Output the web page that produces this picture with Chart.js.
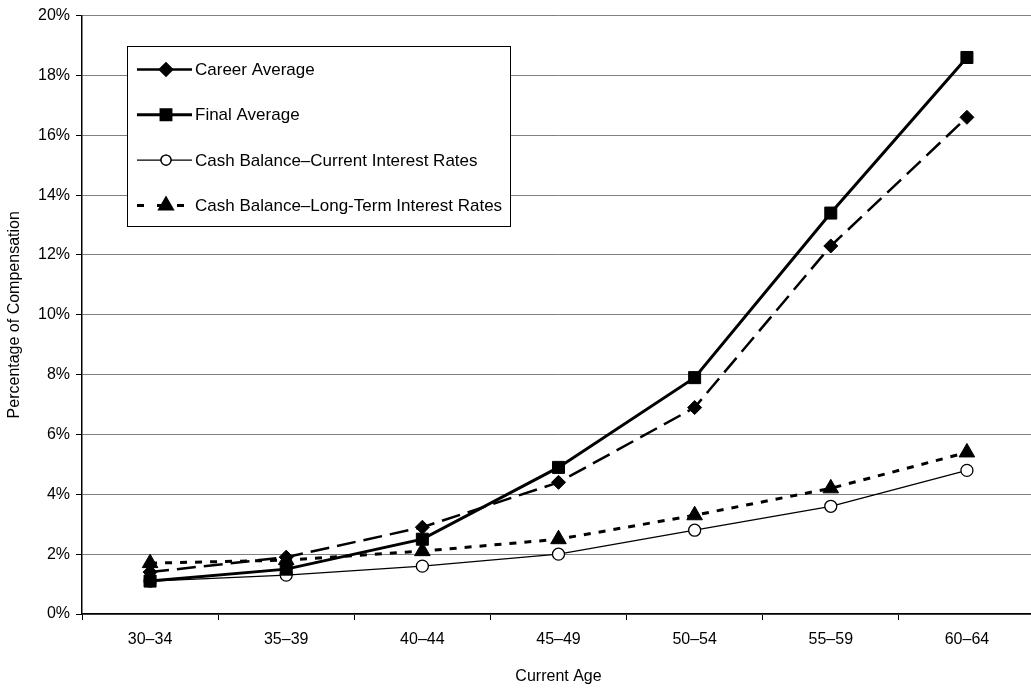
<!DOCTYPE html>
<html>
<head>
<meta charset="utf-8">
<script src="https://cdn.jsdelivr.net/npm/chart.js@4.4.0/dist/chart.umd.min.js"></script>
<style>
  html, body { margin: 0; padding: 0; background: #fff; overflow: hidden; }
  #wrap { width: 1031px; height: 692px; overflow: hidden; }
</style>
</head>
<body>
<div id="wrap"><canvas id="myChart" width="1045" height="692"></canvas></div>
<script>
var ages = ["30–34", "35–39", "40–44", "45–49", "50–54", "55–59", "60–64"];
var careerAverage = [1.4, 1.9, 2.9, 4.4, 6.9, 12.3, 16.6];
var finalAverage = [1.1, 1.5, 2.5, 4.9, 7.9, 13.4, 18.6];
var cashCurrent = [1.1, 1.3, 1.6, 2.0, 2.8, 3.6, 4.8];
var cashLongTerm = [1.7, 1.8, 2.1, 2.5, 3.3, 4.2, 5.4];
var yTicks = [0, 2, 4, 6, 8, 10, 12, 14, 16, 18, 20];

var FONT = "'Liberation Sans', Arial, sans-serif";

// legend box drawn inside the plot, top left
var boxLegend = {
  id: 'boxLegend',
  afterDraw: function(chart) {
    var ctx = chart.ctx;
    ctx.save();
    ctx.fillStyle = '#fff';
    ctx.strokeStyle = '#000';
    ctx.lineWidth = 1;
    ctx.fillRect(127.5, 46.5, 383, 180);
    ctx.strokeRect(127.5, 46.5, 383, 180);
    chart.data.datasets.forEach(function(ds, i) {
      var y = 69.5 + i * 45.3;
      ctx.beginPath();
      ctx.setLineDash(ds.legendDash || []);
      ctx.lineWidth = ds.borderWidth;
      ctx.strokeStyle = '#000';
      ctx.moveTo(137, y);
      ctx.lineTo(192, y);
      ctx.stroke();
      ctx.setLineDash([]);
      Chart.helpers.drawPoint(ctx, {
        pointStyle: ds.pointStyle,
        radius: ds.legendRadius,
        borderWidth: ds.pointBorderWidth,
        rotation: 0
      }, 166, y);
      ctx.fillStyle = ds.pointBackgroundColor;
      ctx.strokeStyle = '#000';
      ctx.lineWidth = ds.pointBorderWidth;
      ctx.fill();
      ctx.stroke();
      ctx.fillStyle = '#000';
      ctx.font = '17px ' + FONT;
      ctx.textBaseline = 'middle';
      ctx.textAlign = 'left';
      ctx.fillText(ds.label, 195, y + 1);
    });
    ctx.restore();
  }
};

var ctx = document.getElementById("myChart").getContext('2d');
var myChart = new Chart(ctx, {
  type: 'line',
  data: {
    labels: ages,
    datasets: [{
      label: 'Career Average',
      data: careerAverage,
      borderColor: '#000',
      borderWidth: 2.5,
      borderDash: [19, 8],
      legendDash: [],
      pointStyle: 'rectRot',
      pointRadius: 7,
      legendRadius: 6,
      pointBorderWidth: 1,
      pointBackgroundColor: '#000',
      pointBorderColor: '#000'
    }, {
      label: 'Final Average',
      data: finalAverage,
      borderColor: '#000',
      borderWidth: 3,
      pointStyle: 'rect',
      pointRadius: 8.5,
      legendRadius: 7,
      pointBorderWidth: 1,
      pointBackgroundColor: '#000',
      pointBorderColor: '#000'
    }, {
      label: 'Cash Balance–Current Interest Rates',
      data: cashCurrent,
      borderColor: '#000',
      borderWidth: 1.3,
      pointStyle: 'circle',
      pointRadius: 6,
      legendRadius: 5,
      pointBorderWidth: 1.3,
      pointBackgroundColor: '#fff',
      pointBorderColor: '#000'
    }, {
      label: 'Cash Balance–Long-Term Interest Rates',
      data: cashLongTerm,
      borderColor: '#000',
      borderWidth: 3,
      borderDash: [7, 8],
      legendDash: [7, 13],
      pointStyle: 'triangle',
      pointRadius: 9,
      legendRadius: 7,
      pointBorderWidth: 1,
      pointBackgroundColor: '#000',
      pointBorderColor: '#000'
    }]
  },
  options: {
    responsive: false,
    animation: false,
    devicePixelRatio: 1,
    layout: { padding: { top: 12, right: 8, left: 0, bottom: 0 } },
    plugins: {
      legend: { display: false },
      tooltip: { enabled: false }
    },
    elements: { line: { tension: 0 } },
    scales: {
      x: {
        offset: true,
        grid: {
          offset: true,
          drawOnChartArea: false,
          color: '#000',
          tickColor: '#000',
          tickLength: 6
        },
        border: { color: '#000', width: 1.5 },
        ticks: { color: '#000', font: { family: FONT, size: 16 }, padding: 10, maxRotation: 0 },
        title: {
          display: true,
          text: 'Current Age',
          color: '#000',
          font: { family: FONT, size: 16 },
          padding: { top: 0, bottom: 6 }
        },
        afterFit: function(scale) { scale.height = 78; }
      },
      y: {
        min: 0,
        max: 20,
        afterBuildTicks: function(scale) {
          scale.ticks = yTicks.map(function(v) { return { value: v }; });
        },
        grid: {
          color: '#808080',
          lineWidth: 1,
          tickColor: '#000',
          tickLength: 6
        },
        border: { color: '#000', width: 1.5 },
        ticks: {
          color: '#000',
          font: { family: FONT, size: 16 },
          padding: 6,
          callback: function(v) { return v + '%'; }
        },
        title: {
          display: true,
          text: 'Percentage of Compensation',
          color: '#000',
          font: { family: FONT, size: 16 },
          padding: { top: 5, bottom: 0 }
        },
        afterFit: function(scale) { scale.width = 82; }
      }
    }
  },
  plugins: [boxLegend]
});
</script>
</body>
</html>
